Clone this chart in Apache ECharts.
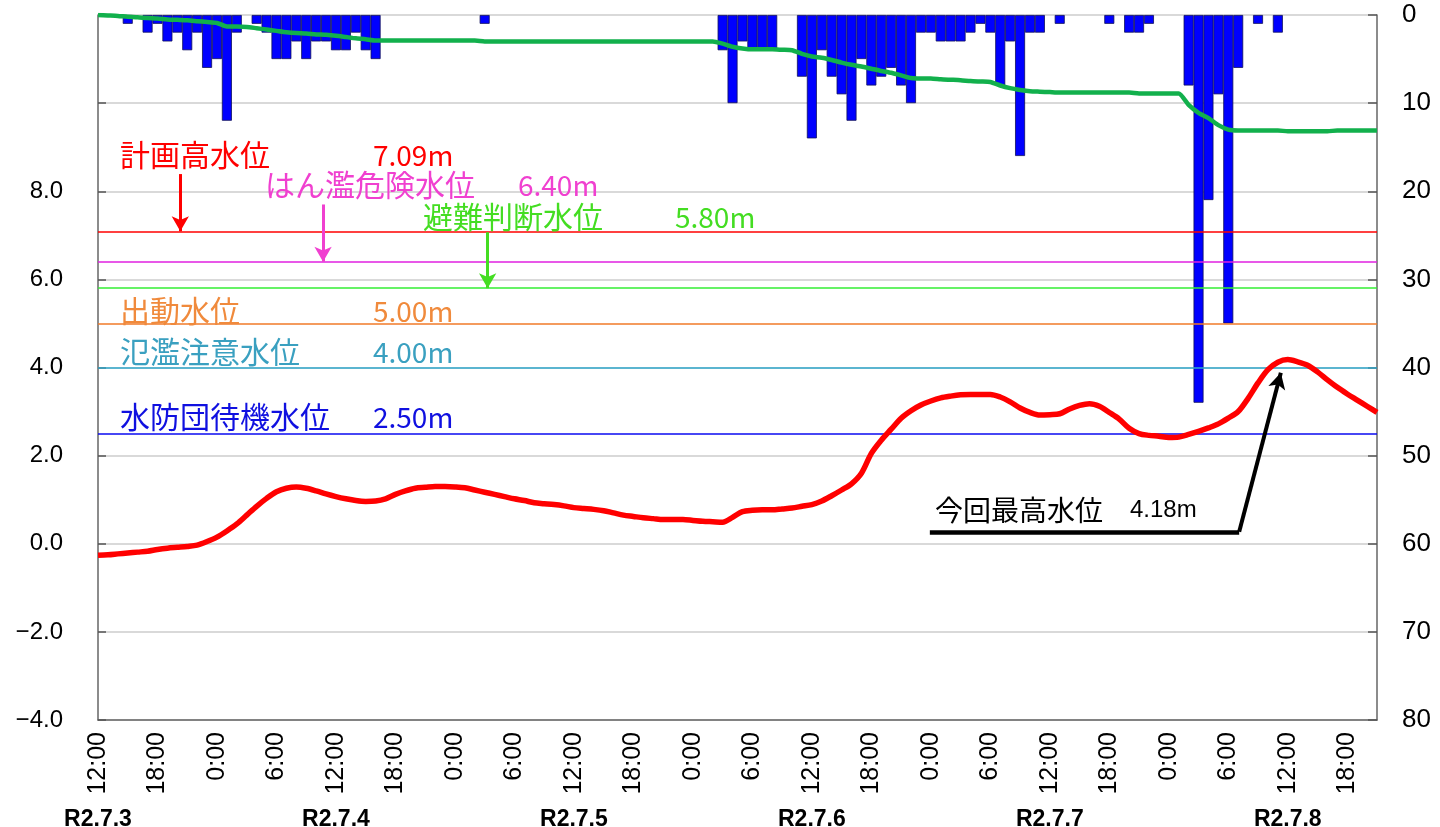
<!DOCTYPE html>
<html><head><meta charset="utf-8">
<script src="https://cdn.jsdelivr.net/npm/echarts@6/dist/echarts.min.js"></script>
<style>html,body{margin:0;padding:0;background:#fff}#c{width:1440px;height:827px}</style>
</head><body><div id="c"></div>
<script>
// ---- data (hour index 0 = R2.7.3 12:00, one value per hour) ----
const dateLabels = ['R2.7.3','R2.7.4','R2.7.5','R2.7.6','R2.7.7','R2.7.8'];
const hourLabels = ['12:00','18:00','0:00','6:00'];
const hourCount = 129;

const rain = [
 0,0,0,1,0,2,1,3,2,4, 2,6,5,12,2,0,1,2,5,5,
 3,5,3,3,4,4,2,4,5,0, 0,0,0,0,0,0,0,0,0,1,
 0,0,0,0,0,0,0,0,0,0, 0,0,0,0,0,0,0,0,0,0,
 0,0,0,4,10,3,4,4,4,0, 0,7,14,4,7,9,12,5,8,7,
 6,8,10,2,2,3,3,3,2,1, 2,8,3,16,2,2,0,1,0,0,
 0,0,1,0,2,2,1,0,0,0, 8,44,21,9,35,6,0,1,0,2,
 0,0,0,0,0,0,0,0,0,0
];

const waterLevel = [
 -0.26,-0.25,-0.23,-0.21,-0.19,-0.17,-0.13,-0.10,-0.08,-0.06,
 -0.03,0.05,0.15,0.29,0.45,0.65,0.85,1.03,1.18,1.26,
 1.29,1.26,1.20,1.13,1.07,1.02,0.98,0.96,0.97,1.02,
 1.12,1.20,1.26,1.28,1.30,1.30,1.29,1.27,1.22,1.17,
 1.12,1.07,1.02,0.98,0.93,0.91,0.89,0.86,0.82,0.80,
 0.78,0.75,0.70,0.65,0.62,0.59,0.57,0.55,0.55,0.55,
 0.53,0.51,0.50,0.49,0.60,0.73,0.76,0.77,0.77,0.79,
 0.81,0.85,0.89,0.97,1.09,1.22,1.36,1.60,2.05,2.35,
 2.60,2.85,3.02,3.15,3.24,3.31,3.35,3.38,3.39,3.39,
 3.39,3.33,3.22,3.08,2.98,2.92,2.93,2.95,3.06,3.14,
 3.18,3.12,2.98,2.83,2.62,2.50,2.46,2.44,2.41,2.42,
 2.48,2.55,2.63,2.72,2.85,3.00,3.30,3.65,3.95,4.12,
 4.18,4.13,4.05,3.90,3.72,3.55,3.40,3.26,3.12,2.98
];

const cumRain = [
 0,0.05,0.1,0.2,0.25,0.35,0.4,0.5,0.55,0.6,
 0.7,0.8,0.9,1.3,1.3,1.35,1.5,1.65,1.8,1.95,
 2.05,2.1,2.2,2.25,2.35,2.5,2.65,2.75,2.9,2.9,
 2.9,2.9,2.9,2.9,2.9,2.9,2.9,2.9,2.9,3.0,
 3.0,3.0,3.0,3.0,3.0,3.0,3.0,3.0,3.0,3.0,
 3.0,3.0,3.0,3.0,3.0,3.0,3.0,3.0,3.0,3.0,
 3.0,3.0,3.0,3.25,3.6,3.8,3.9,3.9,3.9,3.95,
 4.0,4.4,4.7,4.85,5.1,5.4,5.65,5.85,6.1,6.35,
 6.55,6.85,7.15,7.2,7.2,7.3,7.35,7.4,7.5,7.55,
 7.6,8.0,8.3,8.5,8.65,8.7,8.75,8.8,8.8,8.8,
 8.8,8.8,8.8,8.8,8.8,8.9,8.9,8.9,8.9,8.9,
 10.2,11.1,11.7,12.5,13.0,13.1,13.1,13.1,13.1,13.1,
 13.2,13.2,13.2,13.2,13.2,13.1,13.1,13.1,13.1,13.1
];

const thresholdNames  = ['計画高水位','はん濫危険水位','避難判断水位','出動水位','氾濫注意水位','水防団待機水位'];
const thresholdValues = [7.09, 6.40, 5.80, 5.00, 4.00, 2.50];
const thresholdTexts  = ['7.09m','6.40m','5.80m','5.00m','4.00m','2.50m'];
const peakName = '今回最高水位';
const peakText = '4.18m';
const peakHour = 120;
const peakLevel = 4.18;

// ---- styling / layout ----
const lineColors = ['#ff0000','#e020e0','#33ee33','#f07a28','#30a8cc','#0a0af0'];
const textColors = ['#ff0000','#f040d0','#44dd22','#f08a3c','#3aa0c0','#1010e0'];
// label layout: [nameX, nameY, numberX]
const labelPos = [[120,155,373],[265,185,518],[423,217,675],[120,311,373],[120,352,373],[120,417,373]];
// arrows (hour, start level) pointing down to threshold lines 0..2
const arrowSpec = [[8.3, 8.39, 0],[22.7, 7.70, 1],[39.3, 7.07, 2]];

const chart = echarts.init(document.getElementById('c'), null, {renderer:'canvas'});
const numFont = '"Liberation Sans", Arial, sans-serif';
const jpFont = '"Noto Sans CJK JP", sans-serif';

const thresholdMarks = thresholdValues.map((v,i)=>({yAxis:v, lineStyle:{color:lineColors[i], width:1.6, type:'solid'}}));
const arrowMarks = arrowSpec.map(a=>[
  {coord:[a[0], a[1]], lineStyle:{color:textColors[a[2]], width:3, type:'solid'}},
  {coord:[a[0], thresholdValues[a[2]]]}
]);

const option = {
  animation:false,
  backgroundColor:'#ffffff',
  grid:{left:98, right:63, top:15, bottom:107, containLabel:false, outerBoundsMode:'none'},
  xAxis:[{
    type:'value', min:0, max:hourCount, interval:6,
    axisLine:{show:true, onZero:false, lineStyle:{color:'#666', width:1.5}},
    axisTick:{show:false}, splitLine:{show:false},
    axisLabel:{rotate:90, margin:12, fontSize:25, color:'#000', fontFamily:numFont,
      showMinLabel:true, showMaxLabel:true,
      formatter:v=> (v%6===0 ? hourLabels[(v/6)%4] : '')}
  },{
    type:'value', min:0, max:hourCount, interval:24, position:'bottom', offset:84,
    axisLine:{show:false, onZero:false}, axisTick:{show:false}, splitLine:{show:false},
    axisLabel:{margin:4, fontSize:23, fontWeight:'bold', color:'#000', fontFamily:numFont,
      formatter:v=> (v%24===0 ? dateLabels[v/24] : '')}
  }],
  yAxis:[{
    type:'value', min:-4, max:12, interval:2, position:'left',
    axisLine:{show:true, onZero:false, lineStyle:{color:'#666', width:1.5}},
    axisTick:{show:true, inside:true, length:8, lineStyle:{color:'#555', width:1.5}},
    splitLine:{show:true, lineStyle:{color:'#cccccc', width:1.5}},
    axisLabel:{margin:35, fontSize:24, color:'#000', fontFamily:numFont,
      formatter:v=> v>8 ? '' : (v<0 ? '\u2212'+Math.abs(v).toFixed(1) : v.toFixed(1))}
  },{
    type:'value', min:0, max:80, interval:10, position:'right', inverse:true,
    axisLine:{show:true, onZero:false, lineStyle:{color:'#666', width:1.5}},
    axisTick:{show:true, inside:true, length:9, lineStyle:{color:'#555', width:1.5}},
    splitLine:{show:false},
    axisLabel:{margin:25, fontSize:26, color:'#000', fontFamily:numFont}
  }],
  series:[
    {type:'bar', name:'rain', xAxisIndex:0, yAxisIndex:1, barWidth:10, z:2,
     data: rain.map((v,i)=>[i,v]).filter(d=>d[1]>0),
     itemStyle:{color:'#0000ff', borderColor:'#10105a', borderWidth:0.8}},
    {type:'line', name:'thresholds', xAxisIndex:0, yAxisIndex:0, data:[], z:3,
     markLine:{silent:true, symbol:['none','none'], label:{show:false}, lineStyle:{type:'solid'}, data:thresholdMarks, animation:false}},
    {type:'line', name:'arrows', xAxisIndex:0, yAxisIndex:0, data:[], z:4,
     markLine:{silent:true, symbol:['none','arrow'], symbolSize:[13,15], label:{show:false}, lineStyle:{type:'solid'}, data:arrowMarks, animation:false}},
    {type:'line', name:'cumRain', xAxisIndex:0, yAxisIndex:1, z:5, symbol:'none', smooth:0.2,
     data: cumRain.map((v,i)=>[i,v]), lineStyle:{color:'#12b04c', width:4.5}},
    {type:'line', name:'level', xAxisIndex:0, yAxisIndex:0, z:6, symbol:'none', smooth:0.3,
     data: waterLevel.map((v,i)=>[i,v]), lineStyle:{color:'#ff0000', width:5.5}},
    {type:'line', name:'peak', xAxisIndex:0, yAxisIndex:0, data:[], z:7,
     markLine:{silent:true, label:{show:false}, animation:false, lineStyle:{type:'solid', color:'#000'}, data:[
       [{coord:[83.9,0.27], symbol:'none', lineStyle:{color:'#000', width:4.5, type:'solid'}}, {coord:[115.1,0.27], symbol:'none'}],
       [{coord:[115.1,0.27], symbol:'none', lineStyle:{color:'#000', width:4, type:'solid'}}, {coord:[peakHour-0.7, peakLevel-0.3], symbol:'arrow', symbolSize:[13,16]}]
     ]}}
  ]
};
chart.setOption(option);

const g = [];
thresholdNames.forEach((n,i)=>{
  const p = labelPos[i];
  g.push({type:'text', x:p[0], y:p[1], z:50, style:{text:n, fill:textColors[i], font:'30px '+jpFont, textAlign:'left', textVerticalAlign:'middle', align:'left', verticalAlign:'middle'}});
  g.push({type:'text', x:p[2], y:p[1], z:50, style:{text:thresholdTexts[i], fill:textColors[i], font:'28px '+jpFont, textAlign:'left', textVerticalAlign:'middle', align:'left', verticalAlign:'middle'}});
});
g.push({type:'text', x:935, y:510, z:50, style:{text:peakName, fill:'#000', font:'28px '+jpFont, textAlign:'left', textVerticalAlign:'middle', align:'left', verticalAlign:'middle'}});
g.push({type:'text', x:1130, y:510, z:50, style:{text:peakText, fill:'#000', font:'24px '+numFont, textAlign:'left', textVerticalAlign:'middle', align:'left', verticalAlign:'middle'}});
chart.setOption({graphic:g});
</script>
</body></html>
